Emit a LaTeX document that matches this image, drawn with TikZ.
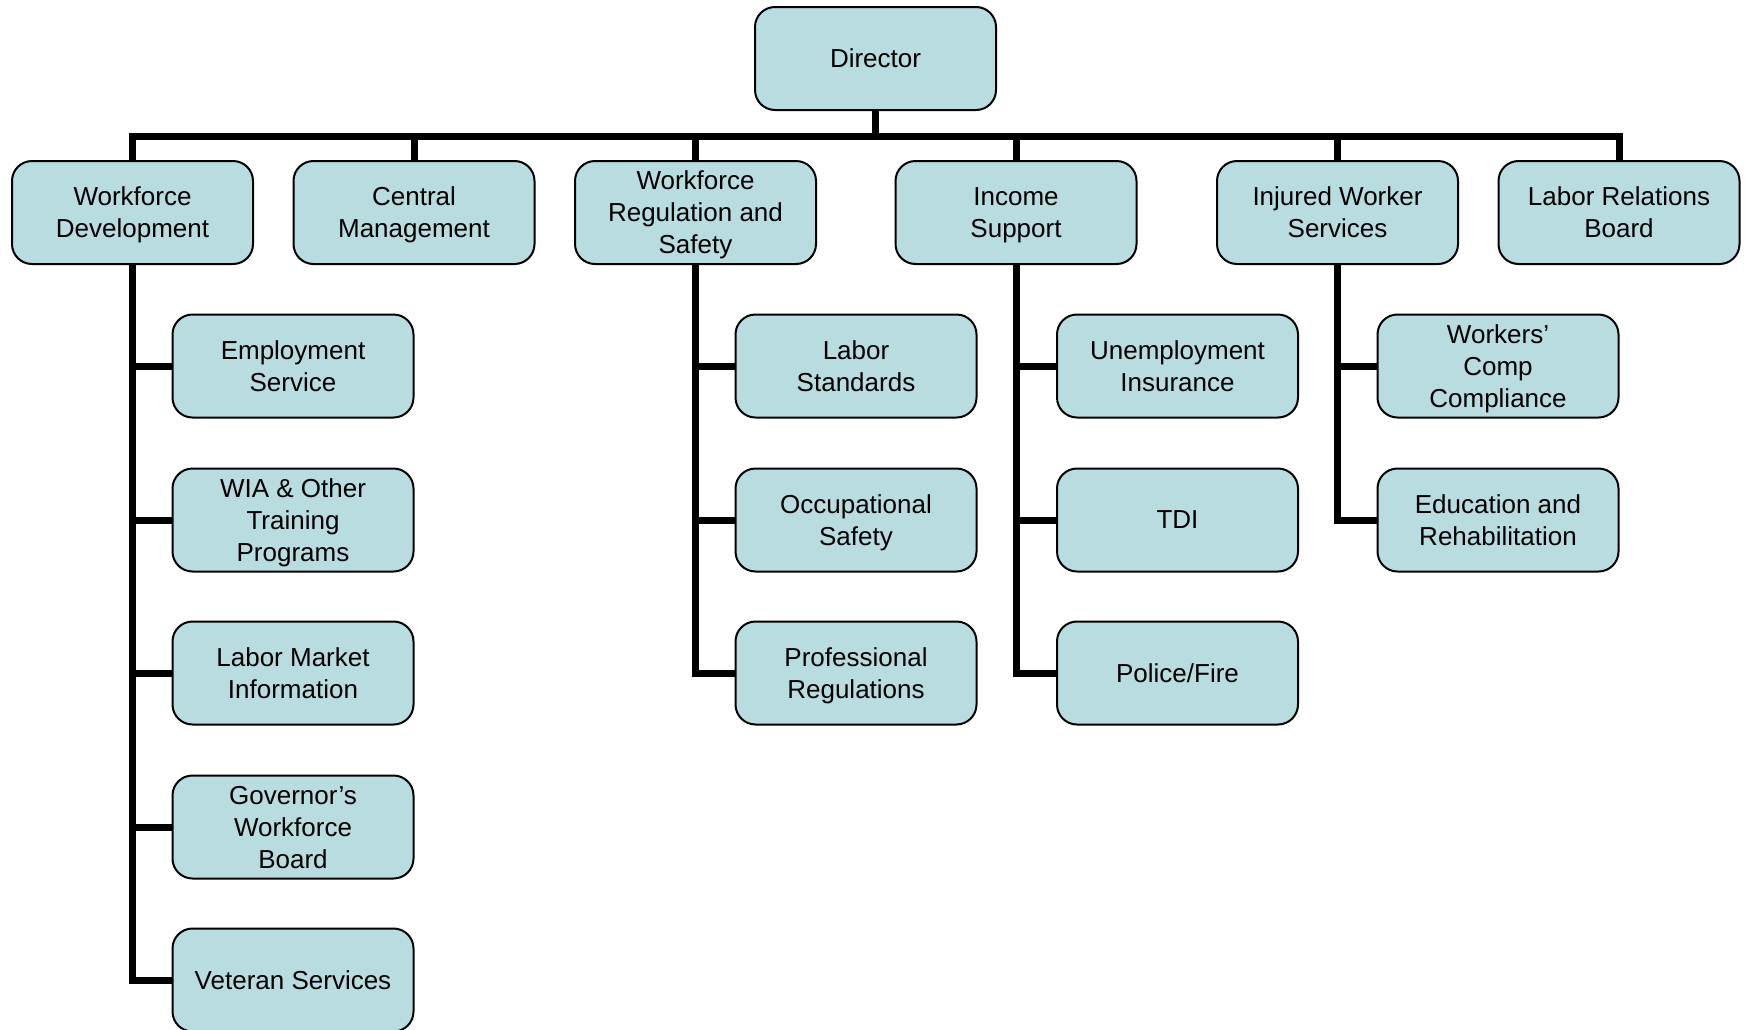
\documentclass[tikz,border=0pt]{standalone}
\usepackage{fontspec}
\setmainfont{Liberation Sans}
\usetikzlibrary{positioning}
\definecolor{unitfill}{HTML}{B8DCDF}

\begin{document}
\begin{tikzpicture}
  [x=0.5pt,y=-0.5pt,
   unit/.style={draw=black,line width=1pt,fill=unitfill,rounded corners=10pt,
     minimum width=120.5pt,minimum height=51.5pt,align=center,inner sep=2pt,
     text depth=0pt,font=\fontsize{13}{16}\selectfont},
   link/.style={line width=3.5pt}]
  \useasboundingbox (0,0) rectangle (1745,1029);

  % top
  \node[unit] (dir) at (875.5,58.5) {Director};
  \coordinate (bus) at (875.5,136);

  % divisions
  \node[unit] (wfd) at (132.5,212.5)  {Workforce\\Development};
  \node[unit] (cm)  at (414,212.5)    {Central\\Management};
  \node[unit] (wrs) at (695.5,212.5)  {Workforce\\Regulation and\\Safety};
  \node[unit] (is)  at (1016,212.5)   {Income\\Support};
  \node[unit] (iws) at (1337.5,212.5) {Injured Worker\\Services};
  \node[unit] (lrb) at (1619,212.5)   {Labor Relations\\Board};

  % units
  \node[unit] (es)  at (293,366) {Employment\\Service};
  \node[unit] (wia) at (293,520) {WIA \& Other\\Training\\Programs};
  \node[unit] (lmi) at (293,673) {Labor Market\\Information};
  \node[unit] (gwb) at (293,827) {Governor’s\\Workforce\\Board};
  \node[unit] (vs)  at (293,980) {Veteran Services};

  \node[unit] (ls)  at (856,366) {Labor\\Standards};
  \node[unit] (os)  at (856,520) {Occupational\\Safety};
  \node[unit] (pr)  at (856,673) {Professional\\Regulations};

  \node[unit] (ui)  at (1177.5,366) {Unemployment\\Insurance};
  \node[unit] (tdi) at (1177.5,520) {TDI};
  \node[unit] (pf)  at (1177.5,673) {Police/Fire};

  \node[unit] (wcc) at (1498,366) {Workers’\\Comp\\Compliance};
  \node[unit] (er)  at (1498,520) {Education and\\Rehabilitation};

  \draw[link] (dir.south) -- (bus);
  \draw[link] (wfd.north) |- (bus) -| (lrb.north);
  \foreach \to in {cm,wrs,is,iws}
    \draw[link] (\to.north) -- (\to.north |- bus);

  \foreach \from/\to in {wfd/es,wfd/wia,wfd/lmi,wfd/gwb,wfd/vs,
                         wrs/ls,wrs/os,wrs/pr,
                         is/ui,is/tdi,is/pf,
                         iws/wcc,iws/er}
    \draw[link] (\from.south) |- (\to.west);

\end{tikzpicture}
\end{document}
